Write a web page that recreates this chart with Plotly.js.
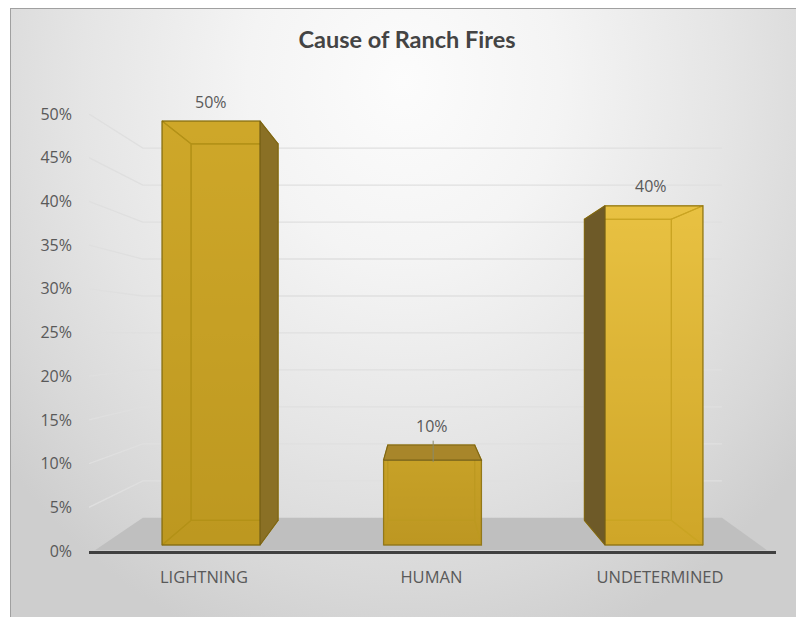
<!DOCTYPE html>
<html>
<head>
<meta charset="utf-8">
<script src="https://cdn.plot.ly/plotly-3.0.1.min.js"></script>
<style>
html,body{margin:0;padding:0;background:#fff;width:796px;height:617px;overflow:hidden}
#frame{position:absolute;left:10px;top:8px;width:786px;height:609px;box-sizing:border-box;
border-left:1.5px solid #a0a0a0;border-top:1.5px solid #a0a0a0;
background:radial-gradient(ellipse 66% 98% at 50% 12%,#fcfcfc 0%,#f4f4f4 30%,#e5e5e5 62%,#d8d8d8 85%,#cecece 100%)}
#chart{position:absolute;left:0;top:0;width:796px;height:617px}
</style>
</head>
<body>
<div id="frame"></div>
<div id="chart"></div>
<script>
// ---- data ----
const categories = ['LIGHTNING', 'HUMAN', 'UNDETERMINED'];
const shares = [50, 10, 40];
const shareLabels = ['50%', '10%', '40%'];
const tickValues = [0, 5, 10, 15, 20, 25, 30, 35, 40, 45, 50];
const tickLabels = ['0%', '5%', '10%', '15%', '20%', '25%', '30%', '35%', '40%', '45%', '50%'];
const barColors = ['#c6a025', '#c29c25', '#dcb435'];
const plateTop = ['#d8b02f', '#cea82b', '#f6d051'];
const plateBottom = ['#b4901b', '#b8921f', '#c2981b'];
const sideColors = ['#8a7025', '#8a7025', '#6e5a28'];
const innerEdges = ['#a08208', '#b8961c', '#b8940f'];
const topColor = '#a8862a';
const labelNudges = [-0.032, -0.005, 0.027];

// ---- perspective of the 3-D look, in axis units ----
const xRange = [-0.551, 2.551];
const y2Range = [-0.708, 50.83];
const barWidth = 0.442;
const depth = 0.888, vanishX = 0.948, vanishY = 25.94;
const wallDepth = 0.846, wallVanishY = 24.66;
const wallLeft = -0.308, wallRight = 2.307;

const backX = x => vanishX + depth * (x - vanishX);
const backY = y => vanishY + depth * (y - vanishY);
const wallY = v => wallVanishY + wallDepth * (v - wallVanishY);

const traces = [];
// floor
traces.push({type:'scatter',mode:'lines',x:[-0.524,2.51,wallRight,wallLeft,-0.524],y:[0.1,0.1,wallY(0),wallY(0),0.1],
  xaxis:'x',yaxis:'y',fill:'toself',fillcolor:'#bfbfbf',line:{width:0},hoverinfo:'skip',showlegend:false});
// wall gridlines
const gx = [], gy = [];
tickValues.filter(v => v > 0).forEach(v => {
  gx.push(xRange[0], wallLeft, wallRight, null);
  gy.push(v, wallY(v), wallY(v), null);
});
traces.push({type:'scatter',mode:'lines',x:gx,y:gy,xaxis:'x',yaxis:'y',
  line:{color:'#dfdfdf',width:1.3},hoverinfo:'skip',showlegend:false});

// faces of each box
function face(xs, ys, fill, lineColor){
  traces.push({type:'scatter',mode:'lines',x:xs.concat(xs[0]),y:ys.concat(ys[0]),xaxis:'x',yaxis:'y2',
    fill:fill?'toself':'none',fillcolor:fill||undefined,line:{color:fill?'#7d6516':lineColor,width:1.1},
    hoverinfo:'skip',showlegend:false});
}
categories.forEach((c,i) => {
  const l = i - barWidth/2, r = i + barWidth/2, t = shares[i], b = 0, e = innerEdges[i];
  const rightOuter = backX(r) > r, leftOuter = backX(l) < l, topOuter = backY(t) > t;
  // shaded plate seen through the translucent front face
  traces.push({type:'scatter',mode:'lines',x:[l,r,r,l,l],y:[b,b,t,t,b],xaxis:'x',yaxis:'y2',
    fill:'toself',fillgradient:{type:'vertical',colorscale:[[0,plateBottom[i]],[1,plateTop[i]]]},
    line:{width:0},hoverinfo:'skip',showlegend:false});
  // inner outline first, then outer faces
  face([backX(l),backX(r),backX(r),backX(l)],[backY(b),backY(b),backY(t),backY(t)],null,e);
  face([l,r,backX(r),backX(l)],[b,b,backY(b),backY(b)],null,e);
  if(!topOuter) face([l,r,backX(r),backX(l)],[t,t,backY(t),backY(t)],null,e);
  if(!leftOuter) face([l,backX(l),backX(l),l],[b,backY(b),backY(t),t],null,e);
  if(!rightOuter) face([r,backX(r),backX(r),r],[b,backY(b),backY(t),t],null,e);
  if(topOuter) face([l,r,backX(r),backX(l)],[t,t,backY(t),backY(t)],topColor);
  if(leftOuter) face([l,backX(l),backX(l),l],[b,backY(b),backY(t),t],sideColors[i]);
  if(rightOuter) face([r,backX(r),backX(r),r],[b,backY(b),backY(t),t],sideColors[i]);
});

// the bars themselves (front faces)
traces.push({type:'bar',x:categories,y:shares,xaxis:'x2',yaxis:'y2',width:barWidth,
  marker:{color:barColors,opacity:0.5,line:{color:'#6f5c18',width:1.3}},hoverinfo:'skip',showlegend:false});

const annotations = categories.map((c,i) => {
  const topY = Math.max(shares[i], backY(shares[i]));
  return {x:i - 0.002 + (i===2?-0.01:0),y:topY,xref:'x',yref:'y2',text:shareLabels[i],showarrow:false,
    yshift:19.5,yanchor:'middle',xanchor:'center',font:{family:'Open Sans',size:16,color:'#595959'}};
});

const layout = {
  width:796,height:617,
  margin:{l:89,r:20,t:114,b:66,pad:0},
  paper_bgcolor:'rgba(0,0,0,0)',plot_bgcolor:'rgba(0,0,0,0)',
  showlegend:false,bargap:0,
  title:{text:'Cause of Ranch Fires',x:407/796,xref:'container',xanchor:'center',y:1-40/617,yref:'container',yanchor:'middle',
    font:{family:'Lato',size:23.5,color:'#444444',weight:700}},
  xaxis:{type:'linear',range:xRange,visible:false,fixedrange:true},
  yaxis:{range:[0,50],tickmode:'array',tickvals:tickValues,ticktext:tickLabels,showgrid:false,zeroline:false,showline:false,
    ticks:'',ticklabelstandoff:16,tickfont:{family:'Open Sans',size:16,color:'#595959'},fixedrange:true},
  xaxis2:{type:'category',categoryorder:'array',categoryarray:categories,range:xRange,overlaying:'x',anchor:'y',side:'bottom',
    tickmode:'array',tickvals:categories.map((c,i)=>i+labelNudges[i]),ticktext:categories,
    showline:true,linecolor:'#404040',linewidth:3,showgrid:false,zeroline:false,ticks:'',ticklabelstandoff:9,
    tickfont:{family:'Open Sans',size:16.5,color:'#595959'},fixedrange:true},
  yaxis2:{range:y2Range,overlaying:'y',anchor:'x',visible:false,fixedrange:true},
  annotations:annotations,
  shapes:[{type:'line',xref:'x',yref:'y2',x0:1.003,x1:1.003,y0:shares[1]+2.3,y1:shares[1]-0.2,
    line:{color:'#8a8a6a',width:1}}]
};
Plotly.newPlot('chart',traces,layout,{displayModeBar:false,staticPlot:true});
</script>
</body>
</html>
